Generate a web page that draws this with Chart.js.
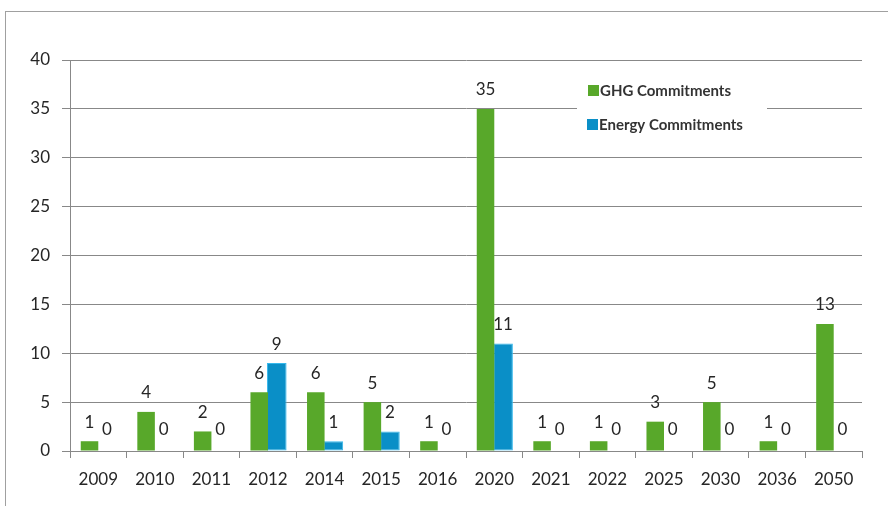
<!DOCTYPE html>
<html>
<head>
<meta charset="utf-8">
<script src="https://cdn.jsdelivr.net/npm/chart.js@4.4.0/dist/chart.umd.min.js"></script>
<style>
  html, body { margin: 0; padding: 0; background: #fff; }
  #wrap { width: 888px; height: 506px; position: relative; }
</style>
</head>
<body>
<div id="wrap"><canvas id="chart" width="888" height="506"></canvas></div>
<script>
var years = ['2009', '2010', '2011', '2012', '2014', '2015', '2016', '2020', '2021', '2022', '2025', '2030', '2036', '2050'];
var ghgCommitments = [1, 4, 2, 6, 6, 5, 1, 35, 1, 1, 3, 5, 1, 13];
var energyCommitments = [0, 0, 0, 9, 1, 2, 0, 11, 0, 0, 0, 0, 0, 0];
var yTicks = [0, 5, 10, 15, 20, 25, 30, 35, 40];

var green = '#58a82a';
var blue = '#0a8fc7';
var textColor = '#262626';
var fontFamily = 'Lato, "Open Sans", sans-serif';

// outer frame of the chart
var framePlugin = {
  id: 'frame',
  beforeDraw: function(chart) {
    var ctx = chart.ctx;
    ctx.save();
    ctx.fillStyle = '#fff';
    ctx.fillRect(0, 0, chart.width, chart.height);
    ctx.strokeStyle = '#a0a0a0';
    ctx.lineWidth = 1;
    ctx.strokeRect(5.5, 11.5, 1000, 1000);
    ctx.restore();
  }
};

// value labels above every bar
var valueLabels = {
  id: 'valueLabels',
  afterDatasetsDraw: function(chart) {
    var ctx = chart.ctx;
    ctx.save();
    ctx.font = '17px ' + fontFamily;
    ctx.fillStyle = textColor;
    ctx.textAlign = 'center';
    ctx.textBaseline = 'middle';
    chart.data.datasets.forEach(function(ds, i) {
      var meta = chart.getDatasetMeta(i);
      meta.data.forEach(function(bar, j) {
        var v = ds.data[j];
        var y = v === 0 ? bar.y - 21 : bar.y - 19;
        ctx.fillText(String(v), bar.x, y);
      });
    });
    ctx.restore();
  }
};

// legend box sitting inside the plot area
var insideLegend = {
  id: 'insideLegend',
  afterDraw: function(chart) {
    var ctx = chart.ctx;
    ctx.save();
    ctx.fillStyle = '#fff';
    ctx.fillRect(577, 64, 190, 84);
    ctx.font = 'bold 15px ' + fontFamily;
    ctx.textBaseline = 'middle';
    ctx.textAlign = 'left';
    chart.data.datasets.forEach(function(ds, i) {
      var y = i === 0 ? 91 : 125;
      var x = i === 0 ? 588 : 587;
      ctx.fillStyle = ds.backgroundColor;
      ctx.fillRect(x, y - 6, 11, 11);
      ctx.fillStyle = '#333';
      ctx.fillText(ds.label, x + 12, y);
    });
    ctx.restore();
  }
};

var ctx = document.getElementById('chart').getContext('2d');
var chart = new Chart(ctx, {
  type: 'bar',
  data: {
    labels: years,
    datasets: [
      {
        label: 'GHG Commitments',
        data: ghgCommitments,
        backgroundColor: green,
        borderWidth: 0,
        categoryPercentage: 0.62,
        barPercentage: 1.0
      },
      {
        label: 'Energy Commitments',
        data: energyCommitments,
        backgroundColor: blue,
        borderColor: '#35b8ec',
        borderWidth: function(c) { return c.raw ? 1 : 0; },
        borderSkipped: false,
        categoryPercentage: 0.62,
        barPercentage: 1.12
      }
    ]
  },
  options: {
    responsive: false,
    animation: false,
    layout: { padding: { left: 0, top: 60, right: 26, bottom: 0 } },
    plugins: {
      legend: { display: false },
      tooltip: { enabled: false }
    },
    scales: {
      x: {
        afterFit: function(scale) { scale.height = 55; },
        grid: {
          drawOnChartArea: false,
          drawTicks: true,
          tickLength: 7,
          color: '#888',
          offset: true
        },
        border: { color: '#888', width: 1 },
        ticks: {
          color: textColor,
          font: { family: fontFamily, size: 17 },
          padding: 11,
          maxRotation: 0
        }
      },
      y: {
        min: 0,
        max: 40,
        afterFit: function(scale) { scale.width = 70; },
        afterBuildTicks: function(scale) {
          scale.ticks = yTicks.map(function(v) { return { value: v }; });
        },
        grid: {
          color: '#888',
          drawTicks: true,
          tickLength: 8
        },
        border: { color: '#888', width: 1 },
        ticks: {
          color: textColor,
          font: { family: fontFamily, size: 17 },
          padding: 12
        }
      }
    }
  },
  plugins: [framePlugin, valueLabels, insideLegend]
});
</script>
</body>
</html>
